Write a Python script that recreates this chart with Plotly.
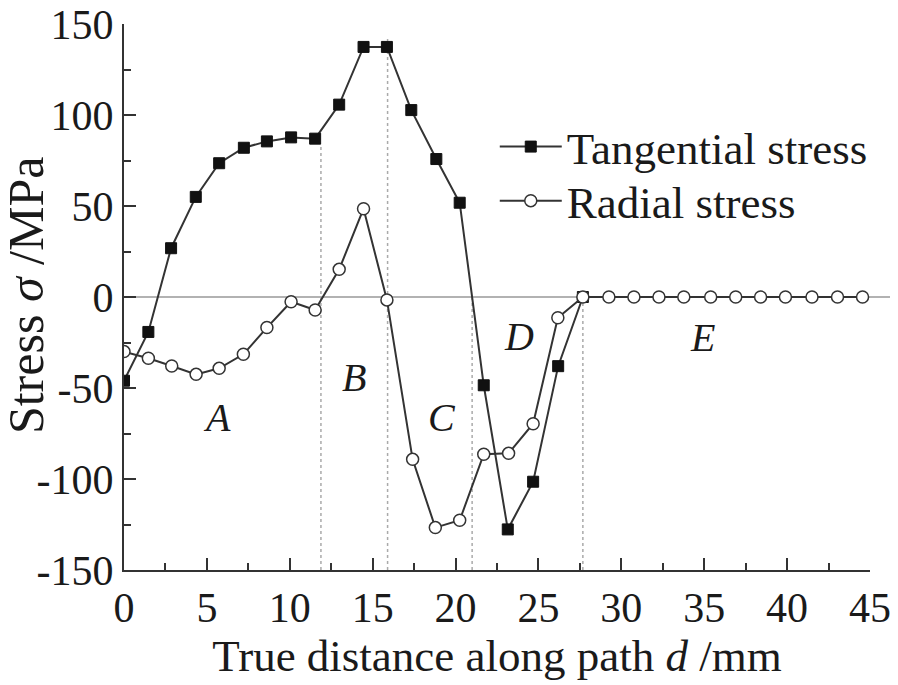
import plotly.graph_objects as go

# Data
d_tan = [0.0, 1.47, 2.84, 4.33, 5.74, 7.23, 8.62, 10.08, 11.53, 12.98, 14.45, 15.86,
         17.33, 18.84, 20.25, 21.70, 23.15, 24.68, 26.19, 27.68]
s_tan = [-46, -19.2, 26.8, 55, 73.5, 82, 85.5, 87.7, 87, 105.7, 137.4, 137.4,
         102.7, 75.8, 51.8, -48.5, -127.7, -101.5, -38, 0]

d_rad = [0.0, 1.47, 2.88, 4.35, 5.74, 7.2, 8.62, 10.08, 11.53, 12.98, 14.45, 15.86,
         17.41, 18.78, 20.25, 21.70, 23.2, 24.68, 26.17, 27.68,
         29.25, 30.76, 32.27, 33.77, 35.39, 36.9, 38.4, 39.9, 41.5, 43.04, 44.55]
s_rad = [-30, -33.7, -37.9, -42.5, -39.2, -31.5, -16.8, -2.6, -7.1, 15.2, 48.5, -1.6,
         -89.2, -126.7, -122.7, -86.4, -85.9, -69.6, -11.4, 0,
         0, 0, 0, 0, 0, 0, 0, 0, 0, 0, 0]

# Zone boundaries (x, top y)
bound_x = [11.88, 15.9, 21.0, 27.68]
bound_top = [84, 143, 0, 0]

zone_labels = ["A", "B", "C", "D", "E"]
zone_x = [5.6, 13.85, 19.2, 23.8, 34.9]
zone_y = [-66, -44, -66, -21.5, -22]

x_ticks = [0, 5, 10, 15, 20, 25, 30, 35, 40, 45]
x_ticktext = [str(v) for v in x_ticks]
y_ticks = [-150, -100, -50, 0, 50, 100, 150]
y_ticktext = ["-150", "-100", "-50", "0", "50", "100", "150"]

x_title = "True distance along path <i>d</i> /mm"
y_title = "Stress <i>σ</i> /MPa"

FONT = "Liberation Serif, Times New Roman, serif"
LINE = "#333333"
TXT = "#1a1a1a"

fig = go.Figure()

fig.add_trace(go.Scatter(
    x=d_tan, y=s_tan, mode="lines+markers", name="Tangential stress",
    line=dict(color=LINE, width=2),
    marker=dict(symbol="square", size=11, color="#111111",
                line=dict(color="#111111", width=1)),
    legend="legend",
))
fig.add_trace(go.Scatter(
    x=d_rad, y=s_rad, mode="lines+markers", name="Radial stress",
    line=dict(color=LINE, width=2),
    marker=dict(symbol="circle", size=12, color="white",
                line=dict(color=LINE, width=1.5)),
    legend="legend2",
))

shapes = []
shapes.append(dict(type="line", xref="paper", yref="y", x0=0, x1=1.035, y0=0, y1=0,
                   line=dict(color="#666666", width=1.2), layer="below"))
for bx, bt in zip(bound_x, bound_top):
    shapes.append(dict(type="line", xref="x", yref="y", x0=bx, x1=bx, y0=-150, y1=bt,
                       line=dict(color="#aaaaaa", width=1.5, dash="dot"), layer="below"))

annotations = []
for lab, zx, zy in zip(zone_labels, zone_x, zone_y):
    annotations.append(dict(x=zx, y=zy, xref="x", yref="y", text="<i>" + lab + "</i>",
                            showarrow=False, font=dict(family=FONT, size=40, color=TXT)))
# y-axis title
annotations.append(dict(x=-0.131, y=0.504, xref="paper", yref="paper", text=y_title,
                        textangle=-90, showarrow=False, xanchor="center", yanchor="middle",
                        font=dict(family=FONT, size=50, color=TXT)))

leg_common = dict(xanchor="left", yanchor="middle", bgcolor="rgba(0,0,0,0)",
                  font=dict(family=FONT, size=45, color=TXT), itemwidth=62)

fig.update_layout(
    width=890, height=677,
    margin=dict(l=116, r=28, t=16, b=115),
    paper_bgcolor="white", plot_bgcolor="white",
    font=dict(family=FONT, size=42, color=TXT),
    shapes=shapes, annotations=annotations,
    showlegend=True,
    legend=dict(x=0.497, y=0.775, **leg_common),
    legend2=dict(x=0.497, y=0.676, **leg_common),
)

fig.update_xaxes(
    range=[0, 45], tickvals=x_ticks, ticktext=x_ticktext, ticks="inside", ticklen=12, tickwidth=2,
    tickcolor=LINE, showline=True, linecolor=LINE, linewidth=2, showgrid=False,
    zeroline=False, mirror=False, automargin=False, ticklabeloverflow="allow",
    minor=dict(ticks="inside", ticklen=7, tickwidth=2, tickcolor=LINE, dtick=2.5, tick0=0),
    tickfont=dict(family=FONT, size=42, color=TXT),
    title=dict(text=x_title, font=dict(family=FONT, size=45, color=TXT), standoff=2),
)
fig.update_yaxes(
    range=[-150, 150], tickvals=y_ticks, ticktext=y_ticktext, ticks="inside", ticklen=12, tickwidth=2,
    tickcolor=LINE, showline=True, linecolor=LINE, linewidth=2, showgrid=False,
    zeroline=False, mirror=False, automargin=False, ticklabeloverflow="allow",
    minor=dict(ticks="inside", ticklen=7, tickwidth=2, tickcolor=LINE, dtick=25, tick0=0),
    tickfont=dict(family=FONT, size=42, color=TXT),
)

fig.write_html("out.html")
